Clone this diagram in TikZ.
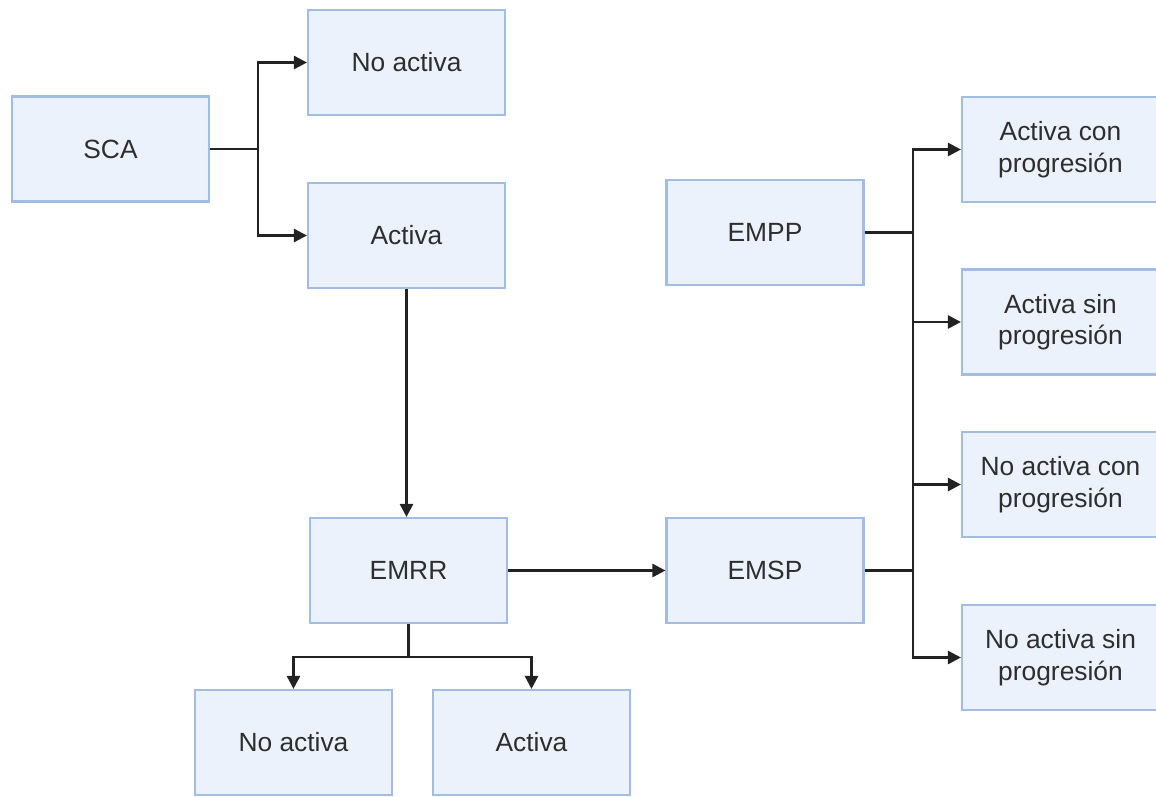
\documentclass[tikz,border=0pt]{standalone}
\usepackage{fontspec}
\setmainfont{Liberation Sans}
\usetikzlibrary{arrows.meta}
\definecolor{boxfill}{HTML}{EBF2FB}
\definecolor{boxline}{HTML}{A3BCE2}
\definecolor{linecol}{HTML}{222222}
\definecolor{textcol}{HTML}{2E2E2E}
\begin{document}
\begin{tikzpicture}[
  state/.style={draw=boxline, fill=boxfill, line width=1.2pt, minimum width=3.94cm,
    minimum height=2.1cm, inner sep=2pt, align=center, text=textcol,
    font=\fontsize{15}{18}\selectfont},
  link/.style={draw=linecol, line width=1.5pt},
  arr/.style={link, -{Triangle[length=7.5pt,width=7.5pt]}}]
\useasboundingbox (0,0) rectangle (23.12,-15.94);

\node[state] (SCA) at (2.21,-2.98) {SCA};
\node[state] (NoAct-1) at (8.13,-1.25) {No activa};
\node[state] (Act-1) at (8.13,-4.71) {Activa};
\node[state] (EMRR) at (8.17,-11.41) {EMRR};
\node[state] (NoAct-2) at (5.87,-14.85) {No activa};
\node[state] (Act-2) at (10.63,-14.85) {Activa};

\node[state] (EMPP) at (15.3,-4.65) {EMPP};
\node[state] (EMSP) at (15.3,-11.41) {EMSP};

\node[state] (ActCon) at (21.21,-2.99) {Activa con\\progresión};
\node[state] (ActSin) at (21.21,-6.44) {Activa sin\\progresión};
\node[state] (NoActCon) at (21.21,-9.69) {No activa con\\progresión};
\node[state] (NoActSin) at (21.21,-13.15) {No activa sin\\progresión};

\coordinate (SCA-j) at (5.16,-2.98);
\coordinate (EMRR-j) at (8.17,-13.14);
\coordinate (EMPP-j) at (18.26,-4.65);
\coordinate (EMSP-j) at (18.26,-11.41);

\path[link] (SCA) -- (SCA-j);
\path[arr] (SCA-j) |- (NoAct-1);
\path[arr] (SCA-j) |- (Act-1);
\path[arr] (Act-1.south) -- (Act-1.south |- EMRR.north);
\path[arr] (EMRR) -- (EMSP);
\path[link] (EMRR) -- (EMRR-j);
\path[arr] (EMRR-j) -| (NoAct-2);
\path[arr] (EMRR-j) -| (Act-2);

\path[link] (EMPP) -- (EMPP-j);
\path[link] (EMSP) -- (EMSP-j);
\path[link] (EMPP-j) -- (EMSP-j);
\path[arr] (EMPP-j) |- (ActCon);
\path[arr] (EMPP-j) |- (ActSin);
\path[arr] (EMSP-j) |- (NoActCon);
\path[arr] (EMSP-j) |- (NoActSin);
\end{tikzpicture}
\end{document}
